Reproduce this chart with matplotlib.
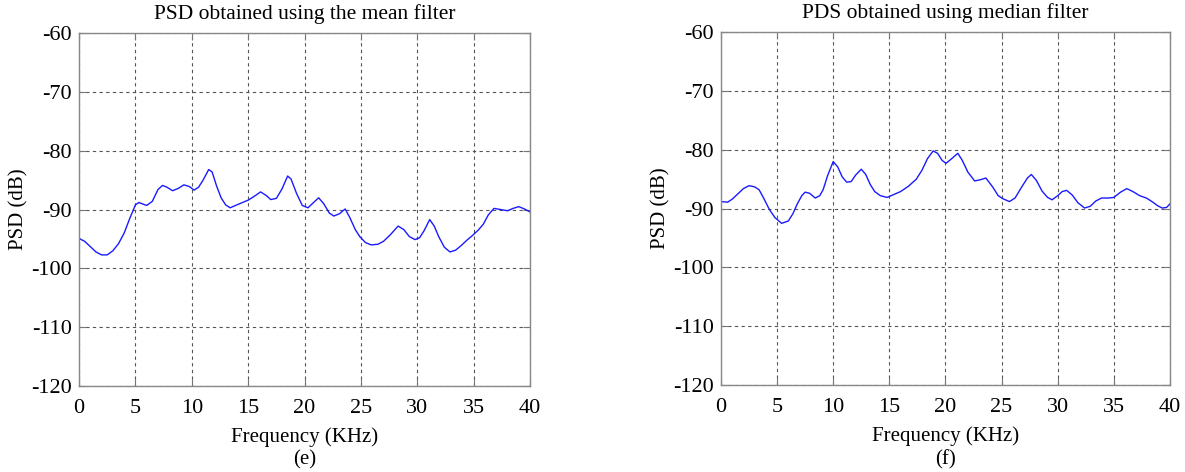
import matplotlib.pyplot as plt

plt.rcParams['font.family'] = ['Liberation Serif', 'DejaVu Serif']
plt.rcParams['axes.unicode_minus'] = False

# (e) PSD, mean filter
freq_mean = [0.0, 0.5, 1.0, 1.5, 2.0, 2.5, 3.0, 3.5, 4.0, 4.5, 5.0, 5.3, 6.0, 6.5,
             7.0, 7.4, 7.8, 8.3, 8.8, 9.3, 9.8, 10.2, 10.6, 11.0, 11.5, 11.8, 12.2,
             12.6, 13.0, 13.4, 14.0, 15.0, 15.5, 16.1, 16.6, 17.0, 17.5, 18.0, 18.5,
             18.8, 19.3, 19.8, 20.3, 20.8, 21.25, 21.7, 22.2, 22.6, 23.1, 23.6, 24.0,
             24.5, 24.9, 25.4, 25.9, 26.5, 27.0, 27.6, 28.3, 28.8, 29.3, 29.8, 30.2,
             30.6, 31.1, 31.5, 31.9, 32.4, 32.9, 33.4, 33.9, 34.4, 34.9, 35.4, 35.85,
             36.3, 36.8, 37.4, 38.0, 38.5, 39.0, 39.5, 40.0]
psd_mean = [-94.9, -95.4, -96.3, -97.2, -97.7, -97.7, -97.0, -95.8, -94.0, -91.5,
            -89.2, -88.8, -89.3, -88.6, -86.6, -85.9, -86.2, -86.8, -86.4, -85.8,
            -86.1, -86.7, -86.2, -85.0, -83.2, -83.6, -86.0, -88.0, -89.2, -89.7,
            -89.2, -88.4, -87.8, -87.0, -87.6, -88.3, -88.1, -86.5, -84.3, -84.8,
            -87.3, -89.3, -89.7, -88.8, -88.0, -89.0, -90.6, -91.1, -90.7, -89.9,
            -91.3, -93.4, -94.6, -95.6, -96.0, -95.9, -95.4, -94.3, -92.8, -93.4,
            -94.6, -95.1, -94.8, -93.6, -91.7, -92.8, -94.6, -96.4, -97.2, -96.9,
            -96.1, -95.2, -94.4, -93.5, -92.5, -90.9, -89.8, -90.0, -90.2, -89.8,
            -89.5, -89.9, -90.4]

# (f) PDS, median filter
freq_median = [0.0, 0.6, 1.0, 1.5, 2.0, 2.5, 3.0, 3.4, 3.8, 4.3, 4.8, 5.4, 6.0, 6.4,
               6.8, 7.2, 7.5, 7.9, 8.4, 8.8, 9.1, 9.5, 10.0, 10.4, 10.8, 11.2, 11.6,
               12.0, 12.5, 12.9, 13.3, 13.7, 14.2, 14.8, 15.4, 16.0, 16.7, 17.4, 17.9,
               18.4, 18.9, 19.3, 19.7, 20.05, 20.5, 21.1, 21.5, 22.0, 22.6, 23.1, 23.6,
               24.2, 24.7, 25.1, 25.7, 26.2, 26.8, 27.3, 27.65, 28.1, 28.6, 29.1, 29.5,
               30.0, 30.4, 30.8, 31.3, 31.8, 32.4, 32.9, 33.4, 33.9, 34.5, 35.0, 35.6,
               36.15, 36.7, 37.3, 37.9, 38.4, 38.9, 39.3, 39.7, 40.0]
psd_median = [-88.8, -88.9, -88.4, -87.5, -86.6, -86.1, -86.3, -86.8, -88.2, -90.1,
              -91.5, -92.5, -92.1, -90.9, -89.2, -87.8, -87.2, -87.4, -88.2, -87.8,
              -86.8, -84.4, -82.0, -82.9, -84.6, -85.5, -85.4, -84.3, -83.3, -84.2,
              -85.9, -87.1, -87.8, -88.1, -87.6, -87.1, -86.2, -85.0, -83.5, -81.5,
              -80.2, -80.6, -81.8, -82.3, -81.6, -80.6, -81.8, -83.8, -85.3, -85.1,
              -84.8, -86.3, -87.8, -88.3, -88.8, -88.2, -86.3, -84.8, -84.2, -85.2,
              -87.0, -88.1, -88.5, -87.8, -87.1, -86.9, -87.7, -89.0, -89.9, -89.6,
              -88.7, -88.2, -88.2, -88.1, -87.2, -86.6, -87.1, -87.8, -88.2, -88.8,
              -89.5, -89.9, -89.8, -89.2]

titles = ["PSD obtained using the mean filter", "PDS obtained using median filter"]
panel_tags = ["(e)", "(f)"]
x_ticks = [0, 5, 10, 15, 20, 25, 30, 35, 40]
y_ticks = [-120, -110, -100, -90, -80, -70, -60]

fig = plt.figure(figsize=(11.85, 4.72), dpi=100)
ax_e = fig.add_axes([0.0667, 0.182, 0.3806, 0.748])
ax_f = fig.add_axes([0.6084, 0.184, 0.3789, 0.748])

for ax, fx, fy, title, tag in [(ax_e, freq_mean, psd_mean, titles[0], panel_tags[0]),
                               (ax_f, freq_median, psd_median, titles[1], panel_tags[1])]:
    ax.plot(fx, fy, color="#1a1aff", lw=1.0)
    ax.set_xlim(0, 40)
    ax.set_ylim(-120, -60)
    ax.set_xticks(x_ticks)
    ax.set_yticks(y_ticks)
    ax.grid(True, color="#555555", ls=(0, (3, 3)), lw=0.8)
    ax.tick_params(direction="in", top=True, right=True, labelsize=16,
                   length=5, color="#777777")
    ax.tick_params(axis="x", pad=9)
    ax.tick_params(axis="y", pad=5)
    for s in ax.spines.values():
        s.set_color("#888888")
        s.set_linewidth(1.0)
    ax.set_title(title, fontsize=15.5, pad=10)
    ax.set_xlabel("Frequency (KHz)", fontsize=15, labelpad=7)
    ax.set_ylabel("PSD (dB)", fontsize=15, labelpad=2)
    bb = ax.get_position()
    fig.text((bb.x0 + bb.x1) / 2, 0.026, tag, ha="center", va="center",
             fontsize=15)

fig.savefig("out.png", dpi=100)
